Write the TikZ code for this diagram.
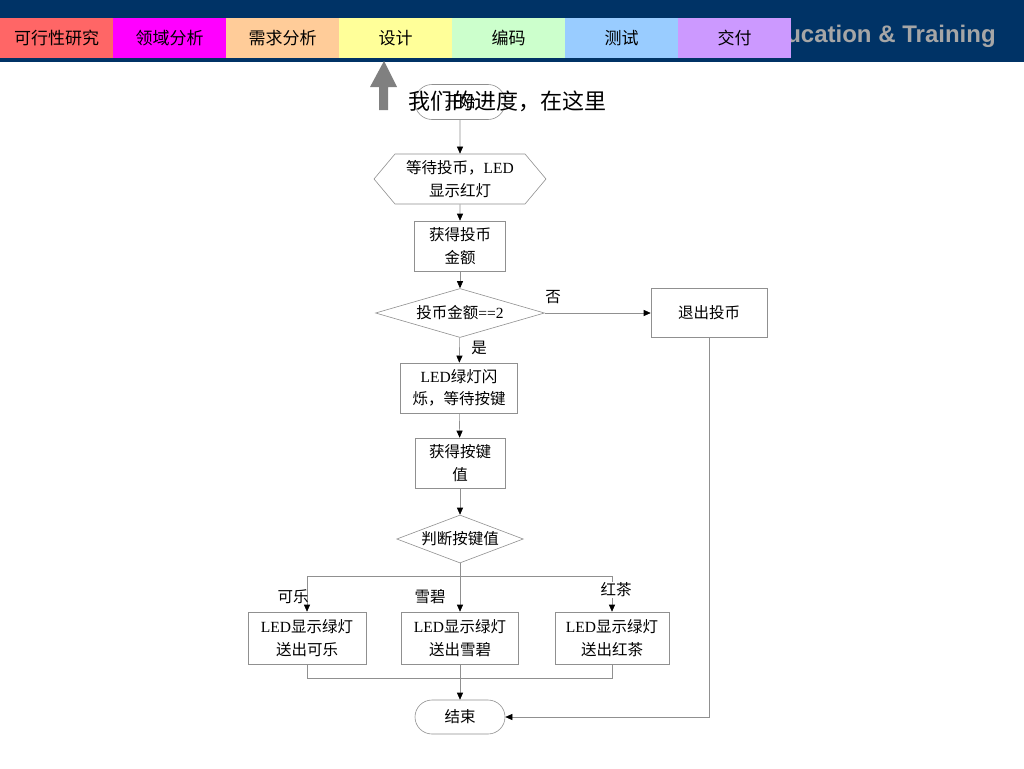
\documentclass[tikz,border=0pt]{standalone}
\usepackage{fontspec}
\setmainfont{Liberation Serif}
\newfontfamily\cjk{Noto Sans CJK SC}
\newfontfamily\headsans{Liberation Sans}
\usetikzlibrary{positioning, shapes.geometric, shapes.symbols, arrows.meta}
\tikzset{
every picture/.style={
line width=0.6pt
}}
\definecolor{navy}{HTML}{003366}
\definecolor{tabA}{HTML}{FF6666}
\definecolor{tabB}{HTML}{FF00FF}
\definecolor{tabC}{HTML}{FFCC99}
\definecolor{tabD}{HTML}{FFFF99}
\definecolor{tabE}{HTML}{CCFFCC}
\definecolor{tabF}{HTML}{99CCFF}
\definecolor{tabG}{HTML}{CC99FF}
\definecolor{edge}{HTML}{909090}
\newcommand\lat[1]{{\rmfamily #1}}

\begin{document}
\begin{tikzpicture}[x=1pt, y=-1pt,
box/.style = {rectangle, draw=edge, fill=white, align=center, inner sep=0pt,
  font=\cjk\fontsize{15.5}{22.5}\selectfont},
term/.style = {box, rounded corners=17pt},
hexa/.style = {box, shape=signal, signal to=west and east, signal pointer angle=100},
test/.style = {box, diamond, aspect=3.4},
tag/.style = {font=\cjk\fontsize{15.5}{18}\selectfont, inner sep=1pt},
line/.style = {draw=edge, -{Triangle[length=7pt, width=6pt, black]}},
phase/.style = {font=\cjk\fontsize{17}{19}\selectfont, inner sep=0pt, anchor=center}]

  \useasboundingbox (0,0) rectangle (1024,768);
  \fill[white] (0,0) rectangle (1024,768);

  % header
  \fill[navy] (0,0) rectangle (1024,62);
  \node[font=\headsans\bfseries\fontsize{24}{26}\selectfont, text=gray!70, anchor=west, inner sep=0pt]
    (brand) at (786,36) {ucation \& Training};
  \foreach \lbl/\col [count=\i] in {可行性研究/tabA, 领域分析/tabB, 需求分析/tabC, 设计/tabD,
                                   编码/tabE, 测试/tabF, 交付/tabG} {
    \fill[\col] ({(\i-1)*113},18) rectangle ({\i*113},58);
    \node[phase] (p\i) at ({(\i-1)*113+56.5},38) {\lbl};
  }

  % progress pointer
  \fill[gray] (379,110) -- (388,110) -- (388,87) -- (397,87) -- (384,61)
    -- (370,87) -- (379,87) -- cycle;

  % flow
  \node[term, minimum width=90pt, minimum height=35pt] (start) at (460,102) {开始};
  \node[hexa, minimum width=172pt, minimum height=50pt] (wait) at (460,179)
    {等待投币，\lat{LED}\\显示红灯};
  \node[box, minimum width=91pt, minimum height=50pt] (coin) at (460,246) {获得投币\\金额};
  \node[test, minimum width=169pt, minimum height=49pt] (check) at (460,313)
    {投币金额\lat{==2}};
  \node[box, minimum width=116pt, minimum height=49pt] (quit) at (709,313) {退出投币};
  \node[box, minimum width=117pt, minimum height=50pt] (flash) at (459,388)
    {\lat{LED}绿灯闪\\烁，等待按键};
  \node[box, minimum width=90pt, minimum height=50pt] (key) at (460,463) {获得按键\\值};
  \node[test, minimum width=117pt, minimum height=48pt] (judge) at (460,539) {判断按键值};
  \node[box, minimum width=118pt, minimum height=52pt] (cola) at (307,638)
    {\lat{LED}显示绿灯\\送出可乐};
  \node[box, minimum width=117pt, minimum height=52pt] (sprite) at (460,638)
    {\lat{LED}显示绿灯\\送出雪碧};
  \node[box, minimum width=114pt, minimum height=52pt] (tea) at (612,638)
    {\lat{LED}显示绿灯\\送出红茶};
  \node[term, minimum width=90pt, minimum height=34pt] (stop) at (460,717) {结束};

  \coordinate (split) at (460,576);
  \coordinate (join) at (460,678);

  \draw[line] (start) -- (wait);
  \draw[line] (wait) -- (coin);
  \draw[line] (coin) -- (check);
  \draw[line] (check) -- (quit);
  \draw[line] (check) -- (flash);
  \draw[line] (flash) -- (key);
  \draw[line] (key) -- (judge);
  \draw[line] (judge) -- (sprite);
  \draw[line] (split) -| (cola);
  \draw[line] (split) -| (tea);
  \draw[edge] (cola) |- (join);
  \draw[edge] (tea) |- (join);
  \draw[line] (sprite) -- (stop);
  \draw[line] (quit) |- (stop);

  \node[tag] (no) at (553,297) {否};
  \node[tag] (yes) at (479,348) {是};
  \node[tag] (l1) at (293,597) {可乐};
  \node[tag] (l2) at (430,597) {雪碧};
  \node[tag, fill=white] (l3) at (616,590) {红茶};

  % caption over the start node
  \node[font=\cjk\fontsize{22}{25}\selectfont, inner sep=0pt] (here) at (507,101)
    {我们的进度，在这里};

\end{tikzpicture}
\end{document}
